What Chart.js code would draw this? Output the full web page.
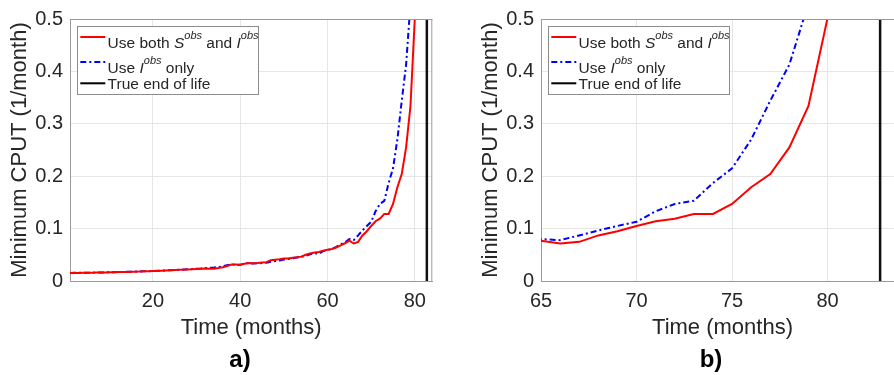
<!DOCTYPE html>
<html>
<head>
<meta charset="utf-8">
<script src="https://cdn.jsdelivr.net/npm/chart.js@4/dist/chart.umd.min.js"></script>
<style>
  html, body { margin: 0; padding: 0; background: #fff; overflow: hidden; }
  .panel { position: absolute; top: 0; height: 375px; }
  #panelA { left: 0; width: 447px; }
  #panelB { left: 471px; width: 433px; }
</style>
</head>
<body>
<div class="panel" id="panelA"><canvas id="chartA" width="447" height="375"></canvas></div>
<div class="panel" id="panelB"><canvas id="chartB" width="433" height="375"></canvas></div>
<script>
  // Time axis (months)
  const months = [
     1,  2,  3,  4,  5,  6,  7,  8,  9, 10,
    11, 12, 13, 14, 15, 16, 17, 18, 19, 20,
    21, 22, 23, 24, 25, 26, 27, 28, 29, 30,
    31, 32, 33, 34, 35, 36, 37, 38, 39, 40,
    41, 42, 43, 44, 45, 46, 47, 48, 49, 50,
    51, 52, 53, 54, 55, 56, 57, 58, 59, 60,
    61, 62, 63, 64, 65, 66, 67, 68, 69, 70,
    71, 72, 73, 74, 75, 76, 77, 78, 79, 80
  ];

  // Minimum CPUT, using both S^obs and I^obs
  const bothObs = [
    0.0155, 0.0155, 0.0155, 0.0156, 0.0157, 0.0158, 0.0160, 0.0162, 0.0164, 0.0166,
    0.0168, 0.0170, 0.0172, 0.0174, 0.0176, 0.0178, 0.0181, 0.0184, 0.0187, 0.0190,
    0.0193, 0.0197, 0.0201, 0.0205, 0.0209, 0.0213, 0.0217, 0.0221, 0.0226, 0.0231,
    0.0236, 0.0240, 0.0232, 0.0236, 0.0248, 0.0262, 0.0285, 0.0315, 0.0315, 0.0310,
    0.0330, 0.0345, 0.0340, 0.0345, 0.0355, 0.0360, 0.0395, 0.0405, 0.0415, 0.0430,
    0.0430, 0.0445, 0.0455, 0.0465, 0.0500, 0.0525, 0.0545, 0.0555, 0.0580, 0.0595,
    0.0610, 0.0640, 0.0680, 0.0720, 0.0770, 0.0716, 0.0747, 0.0870, 0.0950, 0.1050,
    0.1140, 0.1190, 0.1280, 0.1280, 0.1470, 0.1790, 0.2040, 0.2550, 0.3340, 0.5020
  ];

  // Minimum CPUT, using I^obs only (stops at month 79)
  const iObsOnly = [
    0.0155, 0.0156, 0.0156, 0.0157, 0.0158, 0.0159, 0.0161, 0.0163, 0.0165, 0.0167,
    0.0169, 0.0171, 0.0173, 0.0175, 0.0177, 0.0179, 0.0182, 0.0185, 0.0188, 0.0190,
    0.0194, 0.0198, 0.0202, 0.0206, 0.0210, 0.0214, 0.0218, 0.0223, 0.0228, 0.0234,
    0.0240, 0.0248, 0.0255, 0.0258, 0.0265, 0.0280, 0.0300, 0.0320, 0.0305, 0.0308,
    0.0335, 0.0340, 0.0332, 0.0338, 0.0342, 0.0350, 0.0368, 0.0380, 0.0392, 0.0410,
    0.0420, 0.0432, 0.0448, 0.0460, 0.0480, 0.0510, 0.0530, 0.0520, 0.0570, 0.0590,
    0.0612, 0.0650, 0.0700, 0.0740, 0.0800, 0.0780, 0.0870, 0.0965, 0.1050, 0.1130,
    0.1330, 0.1470, 0.1530, 0.1870, 0.2150, 0.2700, 0.3440, 0.4130, 0.5300
  ];

  const trueEndOfLife = 82.75;

  const yTicks = [0, 0.1, 0.2, 0.3, 0.4, 0.5];
  const xTicksA = [20, 40, 60, 80];
  const xTicksB = [65, 70, 75, 80];

  // legend rows: [text, style] where style is '' | 'i' (italic) | 'sup' (italic superscript)
  const legendRows = [
    [['Use both ', ''], ['S', 'i'], ['obs', 'sup'], [' and ', ''], ['I', 'i'], ['obs', 'sup']],
    [['Use ', ''], ['I', 'i'], ['obs', 'sup'], [' only', '']],
    [['True end of life', '']]
  ];
  const legendColors = ['#ff0000', '#0000ff', '#000000'];
  const legendDashes = [[], [6, 3, 2, 3], []];

  const FONT = "'Liberation Sans', Arial, sans-serif";
  const TEXT = '#262626';
  const AXIS = '#9a9a9a';
  const GRID = '#e6e6e6';

  // draws the box around the axes, the legend and the panel label
  const decorPlugin = {
    id: 'decor',
    afterDraw(chart, args, opts) {
      const ctx = chart.ctx;
      const a = chart.chartArea;
      ctx.save();
      ctx.strokeStyle = AXIS;
      ctx.lineWidth = 1;
      ctx.beginPath();
      ctx.moveTo(a.left, a.top + 0.5);
      ctx.lineTo(a.right, a.top + 0.5);
      ctx.moveTo(a.right - 0.5, a.top);
      ctx.lineTo(a.right - 0.5, a.bottom);
      ctx.stroke();

      // legend
      const bx = a.left + 7, by = a.top + 7, bw = 181, bh = 68;
      ctx.fillStyle = '#fff';
      ctx.fillRect(bx, by, bw, bh);
      ctx.strokeStyle = '#8c8c8c';
      ctx.strokeRect(bx + 0.5, by + 0.5, bw, bh);
      const lineY = [11, 36, 57.3];
      const textY = [21.7, 46.7, 63.3];
      legendRows.forEach((row, i) => {
        ctx.strokeStyle = legendColors[i];
        ctx.lineWidth = 2;
        ctx.setLineDash(legendDashes[i]);
        ctx.beginPath();
        ctx.moveTo(bx + 3.3, by + lineY[i]);
        ctx.lineTo(bx + 28.3, by + lineY[i]);
        ctx.stroke();
        ctx.setLineDash([]);
        let x = bx + 30.6;
        ctx.fillStyle = TEXT;
        ctx.textBaseline = 'alphabetic';
        ctx.textAlign = 'left';
        row.forEach(([txt, style]) => {
          let dy = 0;
          if (style === 'sup') {
            ctx.font = 'italic 11px ' + FONT;
            dy = -8.4;
          } else if (style === 'i') {
            ctx.font = 'italic 15.5px ' + FONT;
          } else {
            ctx.font = '15.5px ' + FONT;
          }
          ctx.fillText(txt, x, by + textY[i] + dy);
          x += ctx.measureText(txt).width;
        });
      });

      // panel label
      ctx.font = 'bold 24px ' + FONT;
      ctx.fillStyle = '#000';
      ctx.textAlign = 'center';
      ctx.textBaseline = 'middle';
      ctx.fillText(opts.label, a.left + 170, 360);
      ctx.restore();
    }
  };

  function makeChart(id, xMin, xMax, xTicks, label, padRight) {
    const bothData = months.map((m, i) => ({ x: m, y: bothObs[i] }));
    const iData = months.slice(0, iObsOnly.length).map((m, i) => ({ x: m, y: iObsOnly[i] }));
    return new Chart(document.getElementById(id), {
      type: 'line',
      data: {
        datasets: [
          { data: bothData, borderColor: '#ff0000', borderWidth: 2, pointRadius: 0, tension: 0 },
          { data: iData, borderColor: '#0000ff', borderWidth: 2, borderDash: [6, 3, 2, 3], pointRadius: 0, tension: 0 },
          { data: [{ x: trueEndOfLife, y: yTicks[0] }, { x: trueEndOfLife, y: yTicks[yTicks.length - 1] }],
            borderColor: '#111', borderWidth: 2.5, pointRadius: 0 }
        ]
      },
      options: {
        responsive: false,
        animation: false,
        devicePixelRatio: 1,
        layout: { padding: { top: 13, bottom: 28, left: 0, right: padRight } },
        plugins: {
          legend: { display: false },
          tooltip: { enabled: false },
          decor: { label: label }
        },
        scales: {
          x: {
            type: 'linear',
            min: xMin,
            max: xMax,
            afterBuildTicks: s => { s.ticks = xTicks.map(v => ({ value: v })); },
            afterFit: s => { s.height = 66; },
            ticks: { color: TEXT, font: { family: FONT, size: 20 }, padding: 8, maxRotation: 0 },
            grid: { color: GRID, drawTicks: false },
            border: { color: AXIS },
            title: { display: true, text: 'Time (months)', color: TEXT,
                     font: { family: FONT, size: 22 }, padding: { top: 0, bottom: 6 } }
          },
          y: {
            min: 0,
            max: 0.5,
            afterBuildTicks: s => { s.ticks = yTicks.map(v => ({ value: v })); },
            afterFit: s => { s.width = 70; },
            ticks: { color: TEXT, font: { family: FONT, size: 20 }, padding: 7,
                     callback: v => String(Math.round(v * 10) / 10) },
            grid: { color: GRID, drawTicks: false },
            border: { color: AXIS },
            title: { display: true, text: 'Minimum CPUT (1/month)', color: TEXT,
                     font: { family: FONT, size: 22 }, padding: { top: 7, bottom: 0 } }
          }
        }
      },
      plugins: [decorPlugin]
    });
  }

  makeChart('chartA', 1, 84, xTicksA, 'a)', 14.7);
  makeChart('chartB', 65, 84, xTicksB, 'b)', 0);
</script>
</body>
</html>
